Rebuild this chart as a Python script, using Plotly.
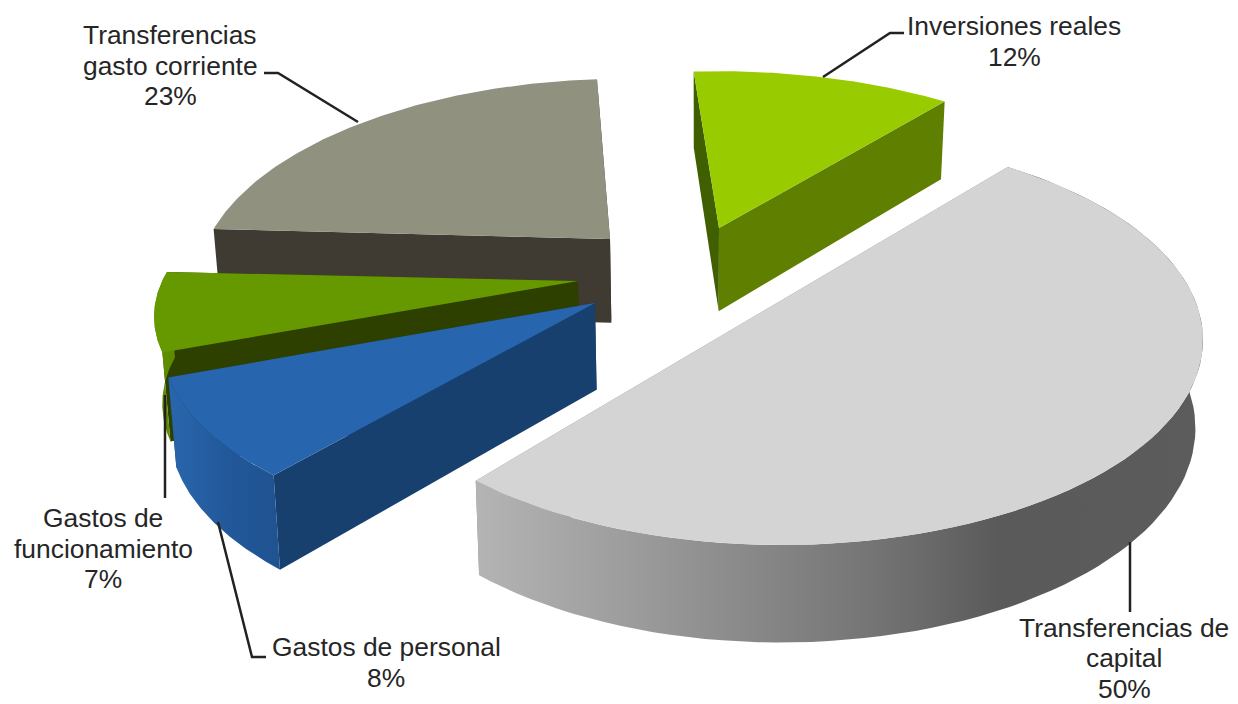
import numpy as np
import plotly.graph_objects as go

# ---- data ----
categories = ["Inversiones reales", "Transferencias de capital", "Gastos de personal",
              "Gastos de funcionamiento", "Transferencias gasto corriente"]
values = [12, 50, 8, 7, 23]
label_lines = [["Inversiones reales"], ["Transferencias de", "capital"], ["Gastos de personal"],
               ["Gastos de", "funcionamiento"], ["Transferencias", "gasto corriente"]]

# ---- styles / layout ----
top_colors = ["#99cc00", "#d4d4d4", "#2765ae", "#669900", "#919180"]
front_colors = ["#5f7f00", "#8a8a8a", "#17406f", "#2e4000", "#3f3b33"]
back_colors = ["#3f5f00", "#8a8a8a", "#17406f", "#2e4000", "#3f3b33"]
rim_scales = [
    None,
    [[0, "#b4b4b4"], [0.25, "#989898"], [0.55, "#747474"], [0.72, "#5a5a5a"], [1, "#5c5c5c"]],
    [[0, "#2a66ad"], [0.5, "#22599b"], [1, "#1f5290"]],
    [[0, "#5d8c00"], [1, "#5d8c00"]],
    None,
]
apex = [(719, 228), (782, 300), (595, 303), (578, 281), (610, 239)]
scale_x = [1.0, 1.0, 1.03, 1.007, 0.98]
scale_y = [0.95, 1.0, 0.97, 0.89, 0.97]
shear = [0.0, 0.0, 0.0, 0.0, -0.016]
rot = [0.0, 0.0, -1.0, 0.0, -2.0]
draw_order = [4, 0, 3, 2, 1]
START = 94.2      # degrees, clockwise from here
RX, RY, A = 421.0, 205.0, 0.195
label_x = [1014, 1124, 386, 103, 170]
label_y0 = [26, 627.5, 647, 518, 35]
LINE_STEP = 30.7
leaders = [
    [(823, 77), (890, 33), (904, 33)],
    [(1130, 542), (1130, 612)],
    [(218, 522), (252, 657), (266, 657)],
    [(165, 395), (165, 498)],
    [(264, 73), (278, 73), (358, 122)],
]


def project(theta_deg, i):
    t = np.radians(theta_deg + rot[i])
    X, Y = np.cos(t), np.sin(t)
    d = 1 + A * Y
    x = X * np.sqrt(1 - A ** 2) / d
    y = (Y + A) / d
    dx = scale_x[i] * RX * x
    dy = -scale_y[i] * RY * (y - A)
    return apex[i][0] + dx, apex[i][1] + dy + shear[i] * dx


def lower(x, y):
    return x + (700 - x) * 0.015, y + 73 + 0.045 * y


def poly(xs, ys, name, color=None, gradient=None):
    kw = dict(fillgradient=gradient) if gradient else dict(fillcolor=color)
    return go.Scatter(x=list(xs), y=list(ys), mode="lines", fill="toself",
                      line=dict(width=0), hoverinfo="skip", showlegend=False, name=name, **kw)


bounds = START - np.cumsum([0] + [v / sum(values) * 360 for v in values])
fig = go.Figure()
for i in draw_order:
    th = np.linspace(bounds[i], bounds[i + 1], 90)
    ax, ay = project(th, i)
    bx, by = lower(ax, ay)
    cx, cy = apex[i]
    lcx, lcy = lower(cx, cy)
    # radial faces
    fig.add_trace(poly([cx, ax[0], bx[0], lcx], [cy, ay[0], by[0], lcy], categories[i], back_colors[i]))
    fig.add_trace(poly([cx, ax[-1], bx[-1], lcx], [cy, ay[-1], by[-1], lcy], categories[i], front_colors[i]))
    # outer rim, where it faces the viewer
    if rim_scales[i]:
        fig.add_trace(poly(np.r_[ax, bx[::-1]], np.r_[ay, by[::-1]], categories[i],
                           gradient=dict(type="horizontal", colorscale=rim_scales[i])))
    # top face
    fig.add_trace(poly(np.r_[cx, ax], np.r_[cy, ay], categories[i], top_colors[i]))

for pts in leaders:
    fig.add_trace(go.Scatter(x=[p[0] for p in pts], y=[p[1] for p in pts], mode="lines",
                             line=dict(color="#222222", width=2.5), hoverinfo="skip", showlegend=False))

for px, py0, lines, v in zip(label_x, label_y0, label_lines, values):
    for k, txt in enumerate(lines + [f"{v}%"]):
        fig.add_annotation(x=px, y=py0 + k * LINE_STEP, text=txt, showarrow=False,
                           font=dict(family="Liberation Sans", size=26.4, color="#262626"))

fig.update_layout(width=1238, height=704, autosize=False,
                  margin=dict(l=0, r=0, t=0, b=0),
                  paper_bgcolor="white", plot_bgcolor="white",
                  xaxis=dict(range=[0, 1238], visible=False, fixedrange=True),
                  yaxis=dict(range=[704, 0], visible=False, fixedrange=True))
fig.write_html("out.html", config=dict(displayModeBar=False),
               post_script="document.body.style.margin='0';")
